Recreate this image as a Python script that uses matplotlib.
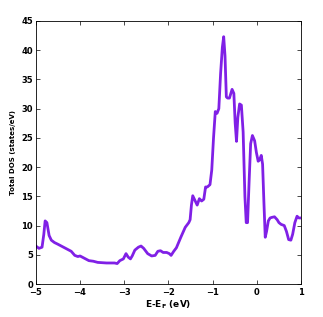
import numpy as np
import matplotlib.pyplot as plt

# -------------------------------------------------
# DATA
# -------------------------------------------------
energy = [-5.0, -4.93, -4.86, -4.82, -4.79, -4.75, -4.70, -4.65, -4.58, -4.50,
          -4.40, -4.30, -4.20, -4.12, -4.05, -4.00, -3.90, -3.80, -3.70, -3.60,
          -3.40, -3.22, -3.16, -3.10, -3.02, -2.96, -2.91, -2.86, -2.82, -2.76,
          -2.68, -2.62, -2.56, -2.47, -2.38, -2.30, -2.24, -2.18, -2.12, -2.04,
          -1.98, -1.94, -1.88, -1.82, -1.72, -1.62, -1.54, -1.51, -1.48, -1.45,
          -1.40, -1.35, -1.30, -1.25, -1.20, -1.16, -1.12, -1.06, -1.02, -0.98,
          -0.94, -0.90, -0.86, -0.82, -0.78, -0.75, -0.72, -0.69, -0.66, -0.62,
          -0.56, -0.52, -0.49, -0.46, -0.43, -0.39, -0.35, -0.31, -0.27, -0.24,
          -0.21, -0.175, -0.14, -0.10, -0.05, -0.01, 0.03, 0.06, 0.10, 0.13,
          0.16, 0.19, 0.22, 0.26, 0.30, 0.34, 0.40, 0.46, 0.50, 0.55,
          0.62, 0.67, 0.72, 0.77, 0.81, 0.86, 0.91, 0.95, 1.0]
dos = [6.5, 6.1, 6.3, 8.5, 10.8, 10.5, 8.3, 7.5, 7.1, 6.8,
       6.4, 6.0, 5.6, 4.9, 4.7, 4.8, 4.4, 4.0, 3.9, 3.7,
       3.6, 3.6, 3.5, 4.0, 4.3, 5.2, 4.6, 4.3, 4.8, 5.8,
       6.3, 6.5, 6.1, 5.2, 4.8, 4.9, 5.6, 5.7, 5.4, 5.4,
       5.2, 4.9, 5.6, 6.2, 8.0, 9.7, 10.5, 11.0, 13.5, 15.1,
       14.3, 13.5, 14.6, 14.2, 14.5, 16.6, 16.6, 17.0, 19.5, 25.0,
       29.5, 29.2, 30.0, 36.0, 40.5, 42.3, 39.0, 32.0, 31.8, 31.8,
       33.3, 32.6, 27.5, 24.4, 28.5, 30.8, 30.6, 26.0, 15.0, 10.5,
       10.5, 17.5, 24.0, 25.4, 24.5, 22.5, 21.0, 21.2, 22.0, 20.5,
       14.0, 8.0, 9.0, 10.8, 11.3, 11.4, 11.5, 11.0, 10.5, 10.2,
       10.0, 9.0, 7.6, 7.5, 8.5, 10.5, 11.6, 11.3, 11.3]

x_ticks = [-5, -4, -3, -2, -1, 0, 1]
y_ticks = [0, 5, 10, 15, 20, 25, 30, 35, 40, 45]

# -------------------------------------------------
# PLOT
# -------------------------------------------------
fig = plt.figure(figsize=(3.23, 3.17), dpi=100)
ax = fig.add_axes([0.111, 0.104, 0.821, 0.830])

ax.plot(energy, dos, color='#8020E6', lw=2.0, solid_joinstyle='round')

ax.set_xlim(-5, 1)
ax.set_ylim(0, 45)
ax.set_xticks(x_ticks)
ax.set_yticks(y_ticks)
ax.tick_params(direction='in', top=True, right=True, length=3, width=0.5,
               labelsize=6)
ax.tick_params(axis='x', pad=3)
ax.tick_params(axis='y', pad=2)
for lab in ax.get_xticklabels() + ax.get_yticklabels():
    lab.set_fontweight('bold')
for s in ax.spines.values():
    s.set_linewidth(0.6)

ax.set_xlabel(r'E-E$_\mathbf{F}$ (eV)', fontsize=6.5, fontweight='bold', labelpad=1)
ax.set_ylabel('Total DOS (states/eV)', fontsize=5, fontweight='bold', labelpad=4)

fig.savefig('out.png', dpi=100)
